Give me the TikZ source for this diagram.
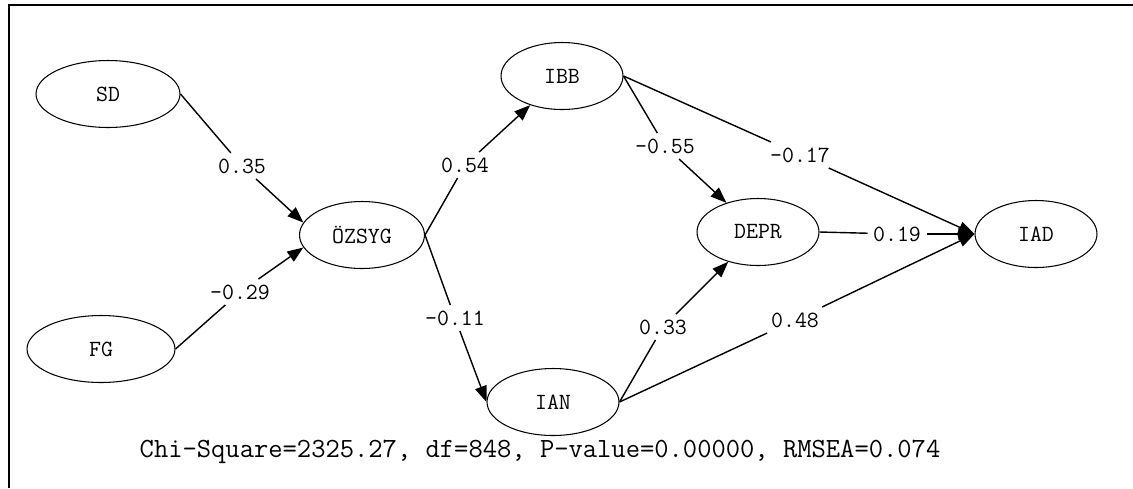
\documentclass[tikz,border=0pt]{standalone}
\usepackage{fontspec}
\usetikzlibrary{arrows.meta,shapes.geometric}
\begin{document}
\begin{tikzpicture}
	[x=0.02cm,y=-0.02cm,
	latent/.style={ellipse,draw,semithick,inner sep=0pt,minimum width=2.44cm,minimum height=1.34cm,font=\ttfamily\fontsize{13.2}{15}\selectfont},
	coef/.style={inner sep=3pt,font=\ttfamily\fontsize{13.2}{15}\selectfont},
	path/.style={thick,-{Triangle[length=3.2mm,width=2.4mm]}}]

	\useasboundingbox (0,0) rectangle (1133,488);
	\draw[line width=0.04cm] (9,488) |- (1133,5);

	\node[latent,minimum width=2.88cm] (SD) at (108,94) {SD};
	\node[latent,minimum width=2.96cm] (FG) at (101,349) {FG};
	\node[latent,minimum width=2.5cm] (OZ) at (362,235) {ÖZSYG};
	\node[latent] (IBB) at (562,76) {IBB};
	\node[latent] (DEPR) at (758,232) {DEPR};
	\node[latent,minimum width=2.64cm] (IAN) at (553,402) {IAN};
	\node[latent] (IAD) at (1036,234) {IAD};

	\node[coef] (l35) at (242,166) {0.35};
	\node[coef] (l29) at (240,292) {-0.29};
	\node[coef] (l54) at (465,165) {0.54};
	\node[coef] (l11) at (455,318) {-0.11};
	\node[coef] (l55) at (665,146) {-0.55};
	\node[coef] (l17) at (800,155) {-0.17};
	\node[coef] (l33) at (663,327) {0.33};
	\node[coef] (l48) at (795,320) {0.48};
	\node[coef] (l19) at (897,234) {0.19};

	\draw[thick] (SD.east) -- (l35);
	\draw[path] (l35) -- (OZ.168);
	\draw[thick] (FG.east) -- (l29);
	\draw[path] (l29) -- (OZ.192);
	\draw[thick] (OZ.east) -- (l54);
	\draw[path] (l54) -- (IBB);
	\draw[thick] (OZ.east) -- (l11);
	\draw[path] (l11) -- (IAN.west);
	\draw[thick] (IBB.east) -- (l55);
	\draw[path] (l55) -- (DEPR);
	\draw[thick] (IBB.east) -- (l17);
	\draw[path] (l17) -- (IAD.west);
	\draw[thick] (IAN.east) -- (l33);
	\draw[path] (l33) -- (DEPR);
	\draw[thick] (IAN.east) -- (l48);
	\draw[path] (l48) -- (IAD.west);
	\draw[thick] (DEPR.east) -- (l19);
	\draw[path] (l19) -- (IAD.west);

	\node[font=\ttfamily\fontsize{15.8}{18}\selectfont] (fit) at (540,452) {Chi-Square=2325.27, df=848, P-value=0.00000, RMSEA=0.074};
\end{tikzpicture}
\end{document}
